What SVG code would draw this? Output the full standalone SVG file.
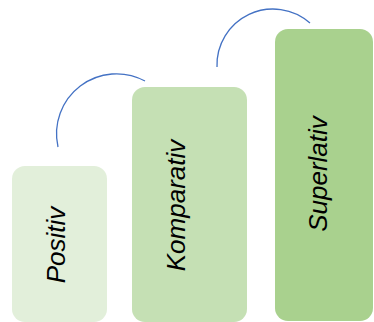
<svg xmlns="http://www.w3.org/2000/svg" width="374" height="322" viewBox="0 0 374 322">
  <style>
    .label { font-family: "Liberation Sans", Arial, sans-serif; font-style: italic; font-size: 26px; fill: #000000; text-anchor: middle; }
    .arc { fill: none; stroke: #4472C4; stroke-width: 1.3; }
  </style>
  <rect width="374" height="322" fill="#ffffff"/>
  <g id="connectors">
    <path class="arc" d="M58,147 A60,60 0 0 1 145,81"/>
    <path class="arc" d="M217,67 A56,56 0 0 1 310,23"/>
  </g>
  <g id="positiv">
    <rect x="12" y="166" width="95" height="156" rx="13" fill="#E2EFDA"/>
    <text class="label" transform="translate(65,245) rotate(-90)">Positiv</text>
  </g>
  <g id="komparativ">
    <rect x="132" y="87" width="115" height="235" rx="13" fill="#C5E0B4"/>
    <text class="label" transform="translate(185,205.5) rotate(-90)">Komparativ</text>
  </g>
  <g id="superlativ">
    <rect x="275" y="29" width="98" height="292" rx="13" fill="#A9D18E"/>
    <text class="label" transform="translate(327,174) rotate(-90)">Superlativ</text>
  </g>
</svg>
